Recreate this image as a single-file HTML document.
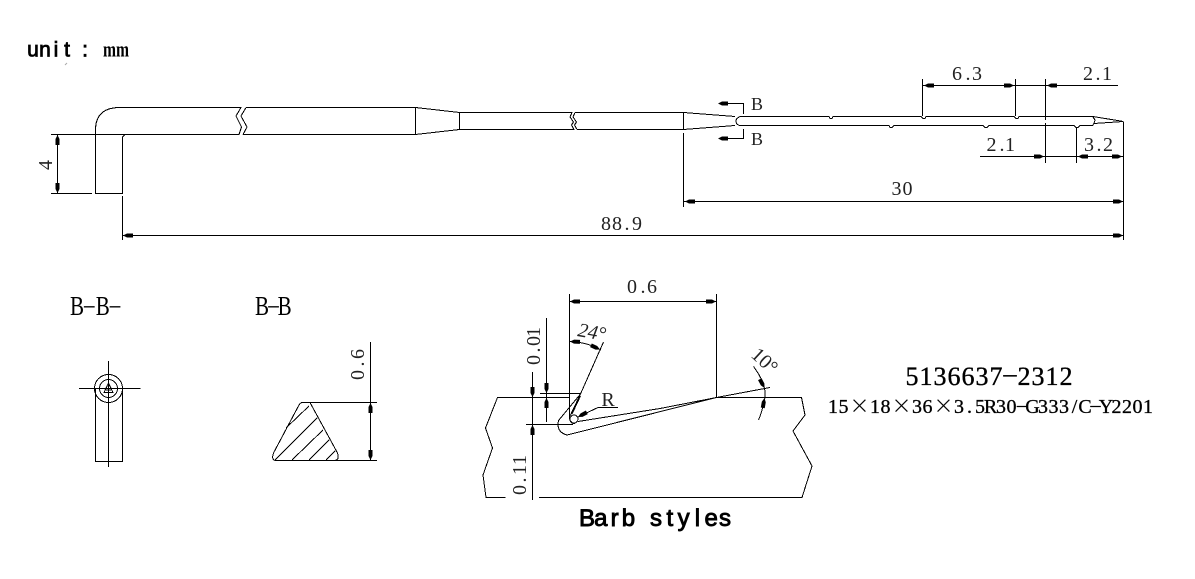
<!DOCTYPE html>
<html>
<head>
<meta charset="utf-8">
<style>
html,body{margin:0;padding:0;background:#fff;width:1195px;height:579px;overflow:hidden}
svg{display:block}
.l{fill:none;stroke:#000;stroke-width:1;shape-rendering:crispEdges}
.d{font-family:"Liberation Serif","Noto Serif CJK SC",serif;font-size:20px;fill:#222;text-anchor:middle}
</style>
</head>
<body>
<svg width="1195" height="579" viewBox="0 0 1195 579" xmlns="http://www.w3.org/2000/svg">
<defs>
<polygon id="a" points="0,0 3,-1.5 4,-2 10,-2 10,2 4,2 3,1.5" fill="#000"/>
</defs>

<!-- top label -->
<text x="33 45 56 67 85" y="56.500" text-anchor="middle" font-family="Liberation Sans,sans-serif" font-size="21" stroke="#000" stroke-width=".8" fill="#000">unit:</text>
<text x="103" y="56.500" font-family="Liberation Serif,serif" font-weight="bold" font-size="22" textLength="26" lengthAdjust="spacingAndGlyphs" fill="#000">mm</text>
<line x1="65" y1="65" x2="67" y2="63" stroke="#aaa" stroke-width="1"/>

<g class="l">
<!-- needle shank -->
<path d="M95.5 134V130Q95.5 107.500 120 107.500H241L236 116L241.500 127L239 134.500H51"/>
<path d="M95.500 134V193.500H122.500V137L125 134.500H239"/>
<path d="M51 193.500H92"/>
<path d="M122.500 196V240"/>
<path d="M246 107.500L241 116L247 127L243 134.500"/>
<path d="M246 107.500H415.500V134.500H243"/>
<path d="M415.500 107.500L459.500 112.500V129.500L415.500 134.500"/>
<path d="M459.500 112.500H572L570 117L573.500 122L571.500 125L574 129.500H459.500"/>
<path d="M575 112.500L573 117L576.500 122L574.500 125L577 129.500"/>
<path d="M575 112.500H683.500V129.500H577"/>
<path d="M683.500 112.500L735 116.500"/>
<path d="M683.500 129.500L735 125.500"/>
<path d="M683.500 133V207"/>
<path d="M740 116.500Q735 119 736 122Q737 125.500 741 125.500"/>
<!-- needle -->
<path d="M740 116.500H829L830 118.500H832L833 116.500H921L923 118.500H925L926 116.500H1014L1016 118.500H1018L1019 116.500H1093L1123.500 121.500"/>
<path d="M741 125.500H889L890 127.500H892L894 125.500H983L985 127.500H987L989 125.500H1074L1076 127.500H1078L1080 125.500H1092.500L1094 123.500L1123.500 121.500"/>
<path d="M1093 117L1095 120L1094 123.500"/>

<!-- section marks -->
<path d="M724 103.500H743.500V114"/>
<path d="M724 138.500H743.500V129"/>

<!-- dims upper right -->
<path d="M922.500 79V116"/>
<path d="M1015.500 79V116"/>
<path d="M1045.500 79V120M1045.500 123V163"/>
<path d="M923 85.500H1118"/>
<path d="M980 156.500H1123"/>
<path d="M1076.500 127V163"/>
<path d="M1123.500 122V240"/>
<!-- 30 / 88.9 -->
<path d="M684 201.500H1123"/>
<path d="M123 235.500H1123"/>
<path d="M57.500 135V193"/>

<!-- section B-B- -->
<circle cx="108.500" cy="388.500" r="14"/>
<circle cx="108.500" cy="388.500" r="9"/>
<path d="M108.500 383L104 392.500H113Z"/>
<path d="M106 390H111"/>
<path d="M95.500 388.500V461.500H122.500V388.500"/>
<path d="M79 388.500H140.500"/>
<path d="M108.500 361V467"/>

<!-- section B-B triangle -->
<path d="M302.500 402.500H310L337.500 453Q340 460.500 334 460.500H276Q271 460.500 273.500 453L299 405Q300.500 402.500 302.500 402.500Z"/>
<path d="M275 460L317 418"/>
<path d="M286 428L309 406"/>
<path d="M292 460L323 430"/>
<path d="M309 460L329 440"/>
<path d="M326 460L335 451"/>
<path d="M310 402.500H377"/>
<path d="M276 460.500H377"/>
<path d="M370.500 342V460"/>

<!-- barb block -->
<path d="M569.500 294V418Q570 424 575 423.500"/>
<path d="M569.500 301.500H717"/>
<path d="M716.500 294V397"/>
<path d="M716.500 397.500H801.500L805 415L793 431L812 466L802 497.500H539"/>
<path d="M505.500 497.500H486L483 475L492.500 448L485.500 428L497.500 397.500H569"/>
<!-- barb -->
<path d="M580.500 394L603.500 342"/>
<path d="M540 393.500H580.500"/>
<path d="M580.500 394L558.500 420.500Q556 432 567 435L716.500 397.500"/>
<path d="M580.500 394L570 416"/>
<path d="M580.500 396L572 414"/>
<path d="M578 421.500L660 408.500L716.500 397.500"/>
<circle cx="574" cy="419" r="4"/>
<!-- 24 arc -->
<path d="M569.500 341.500Q587 342 601 350"/>
<!-- R leader -->
<path d="M578 417L598 407.500H618"/>
<!-- 10 deg -->
<path d="M716.500 397.500L770 387.500"/>
<path d="M753.500 366.500Q768 386 764.500 400Q762 412 758.500 420"/>
<!-- 0.01 / 0.11 -->
<path d="M546.500 318V422"/>
<path d="M532.500 372V500"/>
<path d="M526 424.500H573"/>
</g>

<!-- arrowheads -->
<use href="#a" transform="translate(57.500,135) rotate(90)"/>
<use href="#a" transform="translate(57.500,193) rotate(-90)"/>
<use href="#a" transform="translate(718,103.500)"/>
<use href="#a" transform="translate(718,138.500)"/>
<use href="#a" transform="translate(924,85.500)"/>
<use href="#a" transform="translate(1014,85.500) rotate(180)"/>
<use href="#a" transform="translate(1047,85.500)"/>
<use href="#a" transform="translate(1044,156.500) rotate(180)"/>
<use href="#a" transform="translate(1078,156.500)"/>
<use href="#a" transform="translate(1122,156.500) rotate(180)"/>
<use href="#a" transform="translate(685,201.500)"/>
<use href="#a" transform="translate(1123,201.500) rotate(180)"/>
<use href="#a" transform="translate(123,235.500)"/>
<use href="#a" transform="translate(1123,235.500) rotate(180)"/>
<use href="#a" transform="translate(370.500,403) rotate(90)"/>
<use href="#a" transform="translate(370.500,460) rotate(-90)"/>
<use href="#a" transform="translate(570,301.500)"/>
<use href="#a" transform="translate(716,301.500) rotate(180)"/>
<use href="#a" transform="translate(546.500,393) rotate(-90)"/>
<use href="#a" transform="translate(546.500,398) rotate(90)"/>
<use href="#a" transform="translate(532.500,397) rotate(-90)"/>
<use href="#a" transform="translate(532.500,425) rotate(90)"/>
<use href="#a" transform="translate(570,341.500) rotate(2)"/>
<use href="#a" transform="translate(600,349.500) rotate(205)"/>
<use href="#a" transform="translate(578,417) rotate(-28)"/>
<use href="#a" transform="translate(764.500,388) rotate(-118)"/>
<use href="#a" transform="translate(764.500,398) rotate(100)"/>

<!-- dim text -->
<text class="d" x="957 968 977" y="80">6.3</text>
<text class="d" x="1088 1098 1107" y="80">2.1</text>
<text class="d" x="991.500 1002 1010" y="151">2.1</text>
<text class="d" x="1089 1099 1108" y="151">3.2</text>
<text class="d" x="896.500 907.500" y="195">30</text>
<text class="d" x="606 617 627 637" y="230">88.9</text>
<text class="d" x="632 643 652" y="293">0.6</text>
<text class="d" transform="translate(52,170) rotate(-90)" x="5" y="0">4</text>
<text class="d" transform="translate(364,380) rotate(-90)" x="5 16 26" y="0">0.6</text>
<text class="d" transform="translate(540,365) rotate(-90)" x="5 15 24 33" y="0">0.01</text>
<text class="d" transform="translate(526,495) rotate(-90)" x="5 15 25 35" y="0">0.11</text>
<text class="d" x="608" y="406">R</text>
<text class="d" x="757" y="110" style="font-size:18px">B</text>
<text class="d" x="757" y="145" style="font-size:18px">B</text>
<text transform="translate(577,336) rotate(10)" font-family="Liberation Serif,serif" font-style="italic" font-size="20" fill="#222">24°</text>
<text transform="translate(750,356) rotate(43)" font-family="Liberation Serif,serif" font-size="20" fill="#222">10°</text>

<!-- section titles -->
<g font-family="Liberation Serif,serif" font-size="27" fill="#000">
<text transform="translate(70,315) scale(.78,1)" x="0 18 33 51">B<tspan dy="-2">–</tspan><tspan dy="2">B</tspan><tspan dy="-2">–</tspan></text>
<text transform="translate(255,315) scale(.78,1)" x="0 17 29">B<tspan dy="-2">–</tspan><tspan dy="2">B</tspan></text>
</g>

<!-- barb caption -->
<text x="587 600.800 614.600 628.400 642.200 656 669.800 683.600 697.400 711.200 725" y="526" text-anchor="middle" font-family="Liberation Sans,sans-serif" font-size="24" stroke="#000" stroke-width=".9" fill="#000" xml:space="preserve">Barb styles</text>

<!-- part numbers -->
<text x="912 926 940 954 968 982 996 1010 1024 1038 1052 1066" y="385" font-family="Liberation Serif,serif" font-size="26" fill="#000" stroke="#000" stroke-width=".35" text-anchor="middle">5136637<tspan dy="-3">–</tspan><tspan dy="3">2312</tspan></text>
<text y="413" font-family="Liberation Serif,'Noto Serif CJK SC',serif" font-size="20" fill="#000" stroke="#000" stroke-width=".3" text-anchor="middle" x="833 843.500 859.500 875 885.500 901.500 917 927.500 943.500 959 969.500 980 990.500 1001 1011.500 1022 1032.500 1043 1053.500 1064 1074.500 1085 1095.500 1106 1116.500 1127 1137.500 1148">15<tspan font-family="'Noto Serif CJK SC',serif">×</tspan>18<tspan font-family="'Noto Serif CJK SC',serif">×</tspan>36<tspan font-family="'Noto Serif CJK SC',serif">×</tspan>3.5R30<tspan dy="-2">–</tspan><tspan dy="2">G333/C</tspan><tspan dy="-2">–</tspan><tspan dy="2">Y2201</tspan></text>
</svg>
</body>
</html>
